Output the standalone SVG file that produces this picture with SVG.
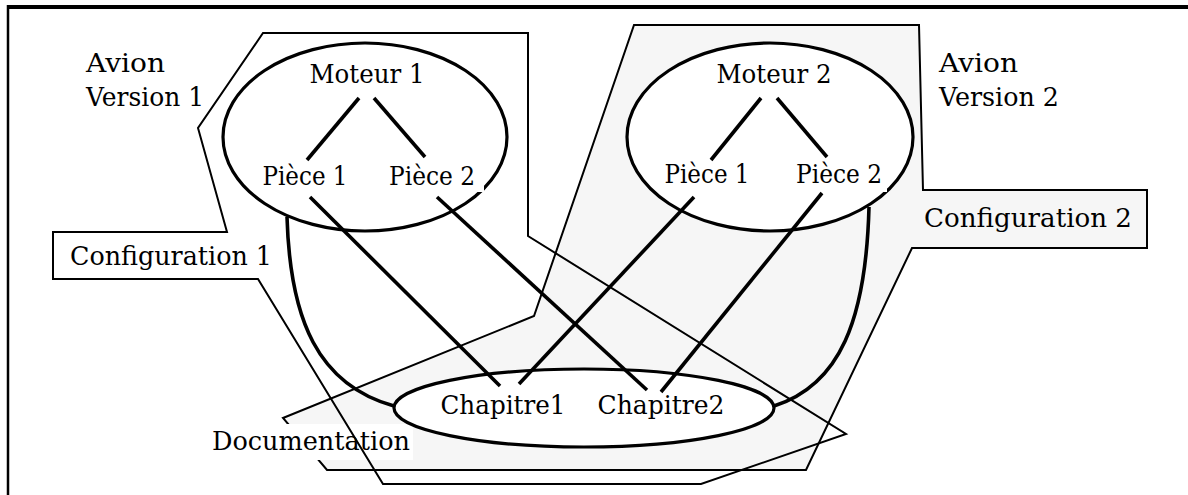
<svg xmlns="http://www.w3.org/2000/svg" width="1188" height="495" viewBox="0 0 1188 495">
<style>
.t{font-family:"DejaVu Serif","Liberation Serif",serif;font-size:26px;fill:#000}
.m{text-anchor:middle}
.thin{fill:none;stroke:#000;stroke-width:2;stroke-linejoin:miter}
.ell{fill:#fff;stroke:#000;stroke-width:3.2}
.thick{fill:none;stroke:#000;stroke-width:3.6;stroke-linecap:butt}
</style>
<rect width="1188" height="495" fill="#fff"/>
<g id="frame">
<line x1="8" y1="7" x2="1188" y2="7" stroke="#000" stroke-width="4"/>
<line x1="8" y1="5" x2="8" y2="495" stroke="#000" stroke-width="2.5"/>
</g>
<g id="configuration2">
<polygon points="634,25 919,25 923,190 1147,190 1147,248 912,248 806,470 327,470 283,418 534,316" fill="#f6f6f6" stroke="#000" stroke-width="2"/>
<text class="t" x="924" y="227" textLength="208" lengthAdjust="spacingAndGlyphs">Configuration 2</text>
</g>
<g id="documentation-label">
<rect x="210" y="424" width="203" height="36" fill="#fff"/>
<text class="t" x="212" y="450" textLength="198" lengthAdjust="spacingAndGlyphs">Documentation</text>
</g>
<g id="configuration1">
<polygon class="thin" points="263,33 528,33 528,236 846,434 701,484 383,484 258,279 53,279 53,232 227,232 198,128"/>
<text class="t" x="70" y="265" textLength="202" lengthAdjust="spacingAndGlyphs">Configuration 1</text>
</g>
<g id="avion1-label">
<text class="t" x="86" y="72" textLength="79" lengthAdjust="spacingAndGlyphs">Avion</text>
<text class="t" x="86" y="106" textLength="118" lengthAdjust="spacingAndGlyphs">Version 1</text>
</g>
<g id="avion2-label">
<text class="t" x="939" y="72" textLength="79" lengthAdjust="spacingAndGlyphs">Avion</text>
<text class="t" x="939" y="106" textLength="120" lengthAdjust="spacingAndGlyphs">Version 2</text>
</g>
<g id="connectors">
<path class="thick" d="M287,217 C290,320 318,385 394,406"/>
<path class="thick" d="M869,207 C866,320 840,385 774,406"/>
</g>
<g id="moteur1">
<ellipse class="ell" cx="365" cy="137" rx="142" ry="94"/>
<text class="t m" x="367" y="83" textLength="115" lengthAdjust="spacingAndGlyphs">Moteur 1</text>
</g>
<g id="moteur2">
<ellipse class="ell" cx="770" cy="137" rx="143" ry="94"/>
<text class="t m" x="774" y="83" textLength="115" lengthAdjust="spacingAndGlyphs">Moteur 2</text>
</g>
<g id="documentation">
<ellipse class="ell" cx="584" cy="408" rx="190" ry="39" stroke-width="3.6"/>
<text class="t m" x="503" y="414" textLength="125" lengthAdjust="spacingAndGlyphs">Chapitre1</text>
<text class="t m" x="661" y="414" textLength="127" lengthAdjust="spacingAndGlyphs">Chapitre2</text>
</g>
<g id="pieces">
<text class="t m" x="305" y="185" textLength="85" lengthAdjust="spacingAndGlyphs">Pièce 1</text>
<rect x="386" y="163" width="98" height="29" fill="#fff"/>
<text class="t m" x="432" y="185" textLength="86" lengthAdjust="spacingAndGlyphs">Pièce 2</text>
<text class="t m" x="707" y="183" textLength="85" lengthAdjust="spacingAndGlyphs">Pièce 1</text>
<rect x="793" y="162" width="94" height="30" fill="#fff"/>
<text class="t m" x="839" y="183" textLength="86" lengthAdjust="spacingAndGlyphs">Pièce 2</text>
</g>
<g id="links">
<line class="thick" x1="359" y1="98" x2="307" y2="160"/>
<line class="thick" x1="374" y1="98" x2="425" y2="157"/>
<line class="thick" x1="761" y1="98" x2="711" y2="160"/>
<line class="thick" x1="777" y1="98" x2="827" y2="157"/>
<line class="thick" x1="310" y1="197" x2="500" y2="386"/>
<line class="thick" x1="437" y1="197" x2="647" y2="390"/>
<line class="thick" x1="694" y1="197" x2="519" y2="384"/>
<line class="thick" x1="822" y1="193" x2="661" y2="392"/>
</g>
</svg>
